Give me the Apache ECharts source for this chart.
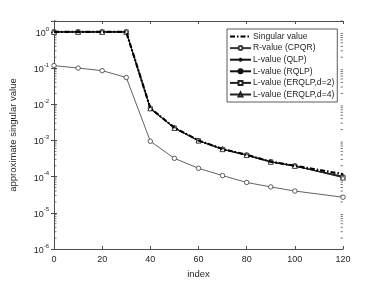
<!DOCTYPE html>
<html><head><meta charset="utf-8">
<script src="https://cdn.jsdelivr.net/npm/echarts@6/dist/echarts.min.js"></script>
<style>html,body{margin:0;padding:0;background:#fff}#c{width:378px;height:284px}</style>
</head><body><div id="c"></div>
<script>
const xIndex = [0, 10, 20, 30, 40, 50, 60, 70, 80, 90, 100, 120];
const singularValue = [1, 1, 1, 1, 7.8e-3, 2.25e-3, 1.0e-3, 5.8e-4, 4.0e-4, 2.6e-4, 2.0e-4, 1.17e-4];
const rValueCPQR = [0.117, 0.1, 0.085, 0.055, 9.5e-4, 3.2e-4, 1.7e-4, 1.07e-4, 6.9e-5, 5.2e-5, 4.0e-5, 2.7e-5];
const lValueQLP = [1, 1, 1, 1, 7.6e-3, 2.2e-3, 9.8e-4, 5.7e-4, 3.9e-4, 2.55e-4, 1.95e-4, 1.0e-4];
const lValueRQLP = [1, 1, 1, 1, 7.6e-3, 2.2e-3, 9.8e-4, 5.7e-4, 3.9e-4, 2.55e-4, 1.95e-4, 1.02e-4];
const lValueERQLP2 = [1, 1, 1, 1, 7.7e-3, 2.2e-3, 9.9e-4, 5.7e-4, 3.95e-4, 2.57e-4, 1.97e-4, 9.6e-5];
const lValueERQLP4 = [1, 1, 1, 1, 7.7e-3, 2.22e-3, 9.9e-4, 5.75e-4, 3.95e-4, 2.58e-4, 1.98e-4, 9.4e-5];
const xTicks = [0, 20, 40, 60, 80, 100, 120];
const yMin = 1e-6, yMax = 2;
const seriesNames = ['Singular value', 'R-value (CPQR)', 'L-value (QLP)', 'L-value (RQLP)', 'L-value (ERQLP,d=2)', 'L-value (ERQLP,d=4)'];

const minorVals = [];
for (let e = -6; e <= 0; e++) for (let m = 2; m <= 9; m++) { const v = m * Math.pow(10, e); if (v <= yMax) minorVals.push(v); }

const font = 'Liberation Sans, Arial, sans-serif';
const axisColor = '#4d4d4d';
const txt = '#262626';
function pairs(ys) { return xIndex.map((x, i) => [x, ys[i]]); }
function supLabel(v) {
  const e = Math.log10(v); const r = Math.round(e);
  if (Math.abs(e - r) > 1e-6) return '';
  return '{b|10}{s|' + r + '}';
}
const plusPath = 'path://M0,5L10,5M5,0L5,10';

const chart = echarts.init(document.getElementById('c'), null, {renderer: 'canvas'});
function lineSeries(name, data, color, width, symbol, size, itemStyle, extra) {
  return Object.assign({
    name: name, type: 'line', data: pairs(data), symbol: symbol, symbolSize: size, showSymbol: true,
    xAxisIndex: 0, yAxisIndex: 0,
    lineStyle: {color: color, width: width}, itemStyle: itemStyle,
    emphasis: {disabled: true}, animation: false, z: 3
  }, extra || {});
}
function minorSeries(xv, yIdx, off) {
  return {
    type: 'scatter', name: 'minor' + yIdx, silent: true, animation: false, z: 2,
    xAxisIndex: 0, yAxisIndex: yIdx, clip: false,
    symbol: 'rect', symbolSize: [2.5, 0.9], symbolOffset: [off, 0],
    itemStyle: {color: axisColor},
    data: minorVals.map(v => [xv, v])
  };
}

chart.setOption({
  animation: false,
  textStyle: {fontFamily: font},
  grid: {left: 49, right: 35, top: 21, bottom: 31, containLabel: false},
  legend: {
    orient: 'vertical', left: 227, top: 29, width: 107,
    itemGap: 2.6, itemWidth: 21, itemHeight: 5, padding: [3, 3, 3, 2],
    backgroundColor: '#fff', borderColor: '#333', borderWidth: 0.8,
    textStyle: {fontSize: 8.6, color: txt, fontFamily: font, padding: [0, 0, 0, -3]},
    data: [
      {name: seriesNames[0], itemStyle: {opacity: 0}},
      seriesNames[1], seriesNames[2], seriesNames[3], seriesNames[4], seriesNames[5]
    ],
    selectedMode: false
  },
  xAxis: [{
    type: 'value', min: 0, max: 120, interval: 20, position: 'bottom',
    name: 'index', nameLocation: 'middle', nameGap: 20,
    nameTextStyle: {fontSize: 9.5, color: txt, fontFamily: font},
    axisLine: {lineStyle: {color: axisColor, width: 1}},
    axisTick: {inside: true, length: 3, lineStyle: {color: axisColor}},
    axisLabel: {fontSize: 9, color: txt, margin: 6, fontFamily: font},
    splitLine: {show: false}
  }, {
    type: 'value', min: 0, max: 120, interval: 20, position: 'top',
    axisLine: {show: true, lineStyle: {color: axisColor, width: 1}},
    axisTick: {inside: true, length: 3, lineStyle: {color: axisColor}},
    axisLabel: {show: false}, splitLine: {show: false}
  }],
  yAxis: [{
    type: 'log', logBase: 10, min: yMin, max: yMax, position: 'left',
    name: 'approximate singular value', nameLocation: 'middle', nameGap: 36,
    nameTextStyle: {fontSize: 9.5, color: txt, fontFamily: font},
    axisLine: {show: true, lineStyle: {color: axisColor, width: 1}},
    axisTick: {inside: true, length: 3, lineStyle: {color: axisColor}},
    axisLabel: {
      formatter: supLabel, margin: 5, color: txt,
      rich: {
        b: {fontSize: 9, color: txt, fontFamily: font, lineHeight: 12, verticalAlign: 'bottom'},
        s: {fontSize: 6, color: txt, fontFamily: font, lineHeight: 12, verticalAlign: 'top', padding: [0, 0, 5, 0]}
      }
    },
    splitLine: {show: false}
  }, {
    type: 'log', logBase: 10, min: yMin, max: yMax, position: 'right',
    axisLine: {show: true, lineStyle: {color: axisColor, width: 1}},
    axisTick: {inside: true, length: 3, lineStyle: {color: axisColor}},
    axisLabel: {show: false}, splitLine: {show: false}
  }],
  series: [
    lineSeries(seriesNames[1], rValueCPQR, '#3a3a3a', 0.8, 'circle', 4.5, {color: '#fff', borderColor: '#3a3a3a', borderWidth: 0.8}),
    lineSeries(seriesNames[2], lValueQLP, '#111', 0.9, plusPath, 5, {color: '#111', borderColor: '#111', borderWidth: 0.8}),
    lineSeries(seriesNames[3], lValueRQLP, '#111', 0.9, 'circle', 3, {color: '#111', borderColor: '#111', borderWidth: 0.5}),
    lineSeries(seriesNames[4], lValueERQLP2, '#222', 0.9, 'rect', 4, {color: '#fff', borderColor: '#222', borderWidth: 0.8}),
    lineSeries(seriesNames[5], lValueERQLP4, '#222', 0.9, 'triangle', 5, {color: '#fff', borderColor: '#222', borderWidth: 0.8}),
    lineSeries(seriesNames[0], singularValue, '#000', 2.2, 'none', 0, {color: '#000'},
      {lineStyle: {color: '#000', width: 2.2, type: [5, 2, 1.5, 2]}, z: 4}),
    minorSeries(0, 0, 1.25),
    minorSeries(120, 1, -1.25)
  ]
});
</script></body></html>
